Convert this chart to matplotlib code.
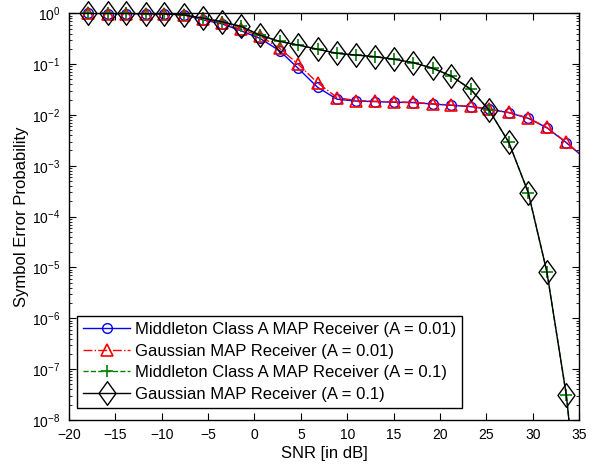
import numpy as np
import matplotlib.pyplot as plt
from matplotlib.path import Path
from matplotlib.ticker import LogLocator, NullFormatter

plt.rcParams['font.family'] = ['Liberation Sans', 'DejaVu Sans']
plt.rcParams['mathtext.fontset'] = 'custom'
plt.rcParams['mathtext.rm'] = 'Liberation Sans'
plt.rcParams['mathtext.it'] = 'Liberation Sans:italic'
plt.rcParams['mathtext.bf'] = 'Liberation Sans:bold'

# SNR points (dB); last point lies outside the axes (no marker)
snr_db = [-17.9, -15.8, -13.8, -11.7, -9.7, -7.6, -5.5, -3.5, -1.4, 0.6, 2.7, 4.7, 6.8,
          8.9, 10.9, 13.0, 15.0, 17.1, 19.2, 21.2, 23.3, 25.3, 27.4, 29.5, 31.5, 33.6, 35.6]

# A = 0.01
pe_middleton_001 = [1.0, 0.99, 0.99, 0.98, 0.97, 0.93, 0.74, 0.62, 0.45, 0.32, 0.184, 0.083, 0.035,
                    0.0204, 0.0188, 0.0183, 0.0178, 0.0175, 0.0164, 0.0155, 0.0146, 0.0129, 0.0111,
                    0.0086, 0.0056, 0.00285, 0.0014]
pe_gauss_001 = [1.0, 0.99, 0.99, 0.98, 0.97, 0.94, 0.77, 0.65, 0.48, 0.36, 0.205, 0.100, 0.043,
                0.022, 0.0192, 0.0186, 0.0181, 0.0177, 0.0166, 0.0157, 0.0148, 0.0130, 0.0112,
                0.0087, 0.0057, 0.0029, 0.0014]

# A = 0.1
pe_middleton_01 = [1.0, 1.0, 1.0, 0.99, 0.98, 0.93, 0.80, 0.68, 0.55, 0.37, 0.28, 0.238, 0.196,
                   0.163, 0.151, 0.140, 0.125, 0.107, 0.083, 0.0585, 0.032, 0.0123, 0.0029,
                   2.97e-4, 8.3e-6, 3.1e-8, 1e-11]
pe_gauss_01 = [1.0, 1.0, 1.0, 0.99, 0.98, 0.93, 0.80, 0.68, 0.55, 0.37, 0.28, 0.238, 0.196,
               0.163, 0.151, 0.140, 0.125, 0.107, 0.083, 0.0585, 0.032, 0.0123, 0.0029,
               2.97e-4, 8.3e-6, 3.1e-8, 1e-11]

labels = ["Middleton Class A MAP Receiver (A = 0.01)",
          "Gaussian MAP Receiver (A = 0.01)",
          "Middleton Class A MAP Receiver (A = 0.1)",
          "Gaussian MAP Receiver (A = 0.1)"]

diamond = Path([(0, 1), (0.72, 0), (0, -1), (-0.72, 0), (0, 1)],
               [Path.MOVETO, Path.LINETO, Path.LINETO, Path.LINETO, Path.CLOSEPOLY])

series = [
    (pe_middleton_001, dict(color='blue', ls='-'), dict(marker='o', ms=7, mfc='none', mew=1.0)),
    (pe_gauss_001, dict(color='red', ls='-.'), dict(marker='^', ms=8, mfc='none', mew=1.2)),
    (pe_middleton_01, dict(color='green', ls='--'), dict(marker='+', ms=9, mew=1.2)),
    (pe_gauss_01, dict(color='black', ls='-'), dict(marker=diamond, ms=17, mfc='none', mew=1.0)),
]

fig = plt.figure(figsize=(6.02, 4.71), dpi=100)
ax = fig.add_axes([0.1143, 0.1083, 0.8480, 0.8635])

handles = []
n = len(snr_db) - 1
for pe, lstyle, mstyle in series:
    ln, = ax.semilogy(snr_db, pe, lw=1.0, **lstyle)
    mk, = ax.semilogy(snr_db[:n], pe[:n], ls='none', color=lstyle['color'],
                      clip_on=False, **mstyle)
    handles.append((ln, mk))

ax.set_xlim(-20, 35)
ax.set_ylim(1e-8, 1)
ax.set_xticks(np.arange(-20, 36, 5))
ax.set_yticks([10.0 ** k for k in range(-8, 1)])
ax.yaxis.set_minor_locator(LogLocator(base=10, subs=np.arange(2, 10), numticks=100))
ax.yaxis.set_minor_formatter(NullFormatter())
ax.tick_params(which='both', direction='in', top=True, right=True)
ax.tick_params(which='major', length=5, width=0.8)
ax.tick_params(which='minor', length=2.5, width=0.6)
ax.tick_params(axis='x', labelsize=10, pad=6)
ax.tick_params(axis='y', labelsize=10, pad=6)
ax.set_ylim(1e-8, 1)
for s in ax.spines.values():
    s.set_linewidth(1.0)

ax.set_xlabel('SNR [in dB]', fontsize=12, labelpad=3)
ax.set_ylabel('Symbol Error Probability', fontsize=12, labelpad=2)

leg = ax.legend(handles, labels, loc='lower left', bbox_to_anchor=(0.0167, 0.030),
                borderaxespad=0, fontsize=12, handlelength=2.8, handletextpad=0.3,
                labelspacing=0.4, borderpad=0.35, fancybox=False, framealpha=1,
                edgecolor='black')
leg.get_frame().set_linewidth(1.0)

fig.savefig('out.png', dpi=100)
